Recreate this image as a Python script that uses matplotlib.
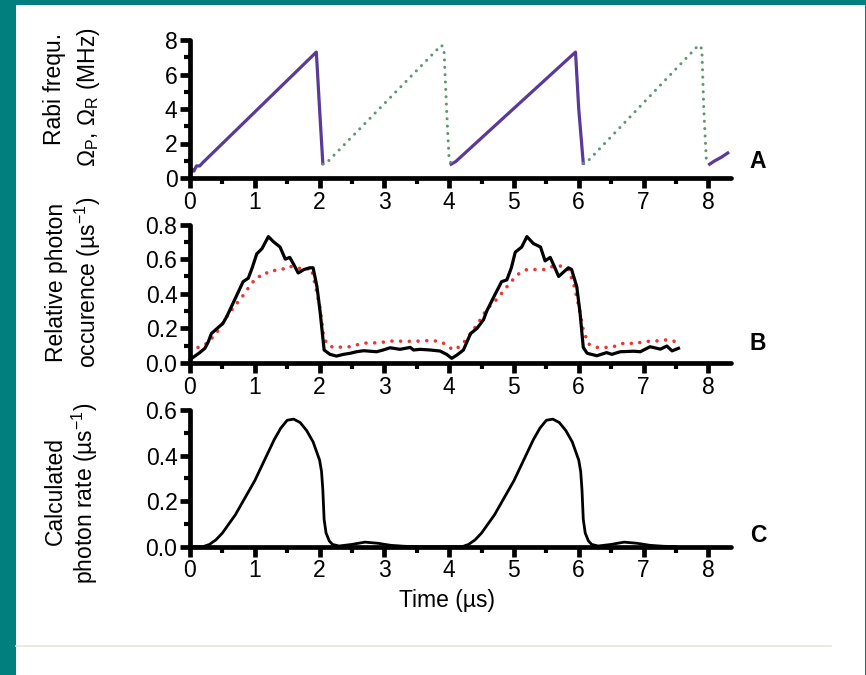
#!/usr/bin/env python3

import matplotlib
matplotlib.use("Agg")
import matplotlib.pyplot as plt
from matplotlib.patches import Rectangle
from matplotlib.lines import Line2D
from matplotlib.ticker import MultipleLocator
import numpy as np

nan = np.nan

# panel A: Rabi frequencies (MHz), pump (solid) and Raman/Stokes (dotted)
rabi_p_t = [0.0, 0.03, 0.06, 0.1, 0.15, 0.2, 1.95, 2.0, 2.05, nan,
            4.03, 4.1, 5.95, 6.0, 6.07, nan, 8.02, 8.1, 8.2, 8.3]
rabi_p = [0.1, 0.5, 0.4, 0.7, 0.7, 0.9, 7.3, 4.0, 0.85, nan,
          0.8, 0.95, 7.3, 4.0, 0.85, nan, 0.8, 1.0, 1.2, 1.45]
rabi_r_t = [2.05, 2.1, 3.88, 3.92, 3.96, 4.0, 4.05, nan,
            6.07, 6.12, 7.85, 7.9, 7.93, 7.97, 8.02]
rabi_r = [0.8, 0.85, 7.7, 7.5, 4.0, 1.0, 0.8, nan,
          0.85, 0.9, 7.7, 7.5, 4.0, 1.0, 0.85]

# panel B: measured (black) and modelled (red dotted) photon occurence
obs_t = [0.0, 0.05, 0.15, 0.23, 0.28, 0.33, 0.42, 0.51, 0.57, 0.62, 0.72, 0.82,
         0.90, 0.96, 1.03, 1.11, 1.21, 1.29, 1.39, 1.47, 1.54, 1.60, 1.67, 1.76,
         1.85, 1.90, 1.96, 2.01, 2.07, 2.16, 2.26, 2.37, 2.47, 2.57, 2.68, 2.78,
         2.88, 2.98, 3.09, 3.24, 3.40, 3.45, 3.55, 3.71, 3.86, 3.96, 4.04, 4.12,
         4.22, 4.33, 4.43, 4.53, 4.58, 4.70, 4.81, 4.89, 4.96, 5.02, 5.12, 5.20,
         5.30, 5.41, 5.48, 5.56, 5.62, 5.69, 5.84, 5.89, 5.97, 6.02, 6.07, 6.13,
         6.28, 6.43, 6.51, 6.64, 6.85, 6.95, 7.10, 7.26, 7.36, 7.44, 7.54]
obs_v = [0.02, 0.033, 0.06, 0.085, 0.12, 0.17, 0.20, 0.23, 0.27, 0.31, 0.39, 0.47,
         0.49, 0.55, 0.63, 0.66, 0.73, 0.70, 0.67, 0.60, 0.61, 0.57, 0.52, 0.54,
         0.55, 0.55, 0.44, 0.29, 0.075, 0.05, 0.04, 0.05, 0.056, 0.065, 0.071, 0.068,
         0.065, 0.075, 0.088, 0.079, 0.09, 0.075, 0.079, 0.075, 0.069, 0.05, 0.027, 0.046,
         0.075, 0.17, 0.20, 0.25, 0.30, 0.39, 0.47, 0.48, 0.55, 0.64, 0.67, 0.73,
         0.69, 0.67, 0.59, 0.61, 0.56, 0.50, 0.55, 0.54, 0.44, 0.29, 0.09, 0.056,
         0.042, 0.06, 0.05, 0.065, 0.068, 0.065, 0.094, 0.08, 0.098, 0.07, 0.085]
mod_t = [0.0, 0.15, 0.28, 0.44, 0.57, 0.67, 0.82, 0.95, 1.05, 1.13, 1.21, 1.42,
         1.52, 1.65, 1.78, 1.87, 1.94, 2.01, 2.06, 2.11, 2.21, 2.47, 2.68, 2.94,
         3.06, 3.45, 3.71, 3.86, 3.96, 4.06, 4.16, 4.27, 4.37, 4.48, 4.58, 4.74,
         4.89, 5.05, 5.20, 5.36, 5.48, 5.61, 5.74, 5.84, 5.92, 6.00, 6.07, 6.15,
         6.28, 6.51, 6.64, 6.74, 6.87, 7.00, 7.15, 7.26, 7.39, 7.52]
mod_v = [0.07, 0.094, 0.117, 0.19, 0.27, 0.32, 0.39, 0.46, 0.50, 0.50, 0.53, 0.54,
         0.56, 0.55, 0.54, 0.55, 0.44, 0.31, 0.16, 0.11, 0.09, 0.094, 0.115, 0.117,
         0.127, 0.125, 0.13, 0.125, 0.104, 0.075, 0.094, 0.137, 0.19, 0.25, 0.31, 0.37,
         0.44, 0.51, 0.54, 0.54, 0.54, 0.56, 0.56, 0.54, 0.46, 0.33, 0.19, 0.11,
         0.09, 0.09, 0.11, 0.117, 0.11, 0.125, 0.125, 0.13, 0.135, 0.12]

# panel C: calculated photon rate
calc_t = [0.0, 0.2, 0.3, 0.4, 0.5, 0.6, 0.7, 0.8, 0.9, 1.0,
          1.1, 1.2, 1.3, 1.4, 1.5, 1.6, 1.7, 1.8, 1.9, 2.0,
          2.03, 2.05, 2.07, 2.1, 2.15, 2.2, 2.3, 2.5, 2.7, 2.9,
          3.1, 3.3, 3.5, 4.0, 4.2,
          4.3, 4.4, 4.5, 4.6, 4.7, 4.8, 4.9, 5.0,
          5.1, 5.2, 5.3, 5.4, 5.5, 5.6, 5.7, 5.8, 5.9, 6.0,
          6.03, 6.05, 6.07, 6.1, 6.15, 6.2, 6.3, 6.5, 6.7, 6.9,
          7.1, 7.3, 7.5]
calc_v = [0, 0, 0.01, 0.03, 0.06, 0.10, 0.14, 0.19, 0.24, 0.29,
          0.35, 0.41, 0.47, 0.52, 0.555, 0.56, 0.545, 0.51, 0.46, 0.38,
          0.33, 0.25, 0.12, 0.06, 0.025, 0.01, 0.003, 0.01, 0.02, 0.015,
          0.006, 0.002, 0, 0, 0,
          0.01, 0.03, 0.06, 0.10, 0.14, 0.19, 0.24, 0.29,
          0.35, 0.41, 0.47, 0.52, 0.555, 0.56, 0.545, 0.51, 0.46, 0.38,
          0.33, 0.25, 0.12, 0.06, 0.025, 0.01, 0.003, 0.01, 0.02, 0.015,
          0.006, 0.002, 0]

x_ticks = [0, 1, 2, 3, 4, 5, 6, 7, 8]

TEAL = "#007f7e"
PURPLE = "#5a3a98"
GREEN = "#5e9670"
RED = "#ee3535"
FS = 16.5

plt.rcParams['font.family'] = ['Liberation Sans', 'DejaVu Sans']
plt.rcParams['mathtext.fontset'] = 'custom'
plt.rcParams['mathtext.rm'] = 'Liberation Sans'
plt.rcParams['mathtext.it'] = 'Liberation Sans:italic'
plt.rcParams['mathtext.bf'] = 'Liberation Sans:bold'

W, H = 866, 675


def fx(px):
    return px / W


def fy(py):
    return 1 - py / H


def style_axis(ax, ymax, ymaj, ymin, fmt):
    ax.set_facecolor("none")
    ax.set_xlim(0, 8.35)
    ax.set_ylim(0, ymax)
    for s in ("top", "right"):
        ax.spines[s].set_visible(False)
    for s in ("left", "bottom"):
        ax.spines[s].set_linewidth(3.4)
        ax.spines[s].set_capstyle("round")
    ax.set_xticks(x_ticks)
    ax.xaxis.set_minor_locator(MultipleLocator(0.5))
    ax.yaxis.set_major_locator(MultipleLocator(ymaj))
    ax.yaxis.set_minor_locator(MultipleLocator(ymin))
    ax.yaxis.set_major_formatter(plt.FormatStrFormatter(fmt))
    ax.tick_params(which="major", direction="out", length=7, width=3.4,
                   labelsize=FS, pad=2)
    ax.tick_params(which="minor", direction="out", length=4.5, width=3.0)


def _main():
    fig = plt.figure(figsize=(W / 100, H / 100), dpi=100, facecolor=TEAL)
    fig.patches.append(Rectangle((fx(16), 0), fx(865) - fx(16), fy(5),
                                 transform=fig.transFigure, facecolor="white",
                                 edgecolor="none", zorder=-10))
    fig.lines.append(Line2D([fx(16), fx(831)], [fy(646), fy(646)],
                            transform=fig.transFigure, color="#e6e6de", lw=1.2))

    left, width = fx(190), fx(731) - fx(190)
    ax1 = fig.add_axes([left, fy(178), width, fy(40) - fy(178)])
    ax2 = fig.add_axes([left, fy(363), width, fy(224.5) - fy(363)])
    ax3 = fig.add_axes([left, fy(546.7), width, fy(410) - fy(546.7)])

    style_axis(ax1, 8, 2, 1, "%d")
    style_axis(ax2, 0.8, 0.2, 0.1, "%.1f")
    style_axis(ax3, 0.6, 0.2, 0.1, "%.1f")

    ax1.plot(rabi_p_t, rabi_p, color=PURPLE, lw=2.3, clip_on=False)
    ax1.plot(rabi_r_t, rabi_r, color=GREEN, lw=2.2, ls=(0, (0.01, 2.4)),
             dash_capstyle="round", clip_on=False)

    ax2.plot(mod_t, mod_v, color=RED, lw=2.6, ls=(0, (0.01, 2.4)),
             dash_capstyle="round", clip_on=False)
    ax2.plot(obs_t, obs_v, color="black", lw=2.3, clip_on=False)

    ax3.plot(calc_t, calc_v, color="black", lw=2.0, clip_on=False)

    # y labels, two lines each
    fig.text(fx(55), fy(89), "Rabi frequ.", rotation=90, ha="center",
             va="center", fontsize=FS)
    fig.text(fx(88), fy(97), r"Ω$_{\mathrm{P}}$, Ω$_{\mathrm{R}}$ (MHz)",
             rotation=90, ha="center", va="center", fontsize=FS)
    fig.text(fx(57), fy(282), "Relative photon", rotation=90, ha="center",
             va="center", fontsize=FS)
    fig.text(fx(88), fy(282), r"occurence (µs$^{\mathrm{-1}}$)", rotation=90,
             ha="center", va="center", fontsize=FS)
    fig.text(fx(55), fy(491), "Calculated", rotation=90, ha="center",
             va="center", fontsize=FS)
    fig.text(fx(85), fy(493), r"photon rate (µs$^{\mathrm{-1}}$)", rotation=90,
             ha="center", va="center", fontsize=FS)

    fig.text(fx(447), fy(601), "Time (µs)", ha="center", va="center",
             fontsize=FS)

    for lab, py in (("A", 162), ("B", 343), ("C", 536)):
        fig.text(fx(758), fy(py), lab, ha="center", va="center",
                 fontsize=FS, fontweight="bold")

    fig.savefig("out.png", dpi=100, facecolor=TEAL)


if __name__ == '__main__':
    _main()
